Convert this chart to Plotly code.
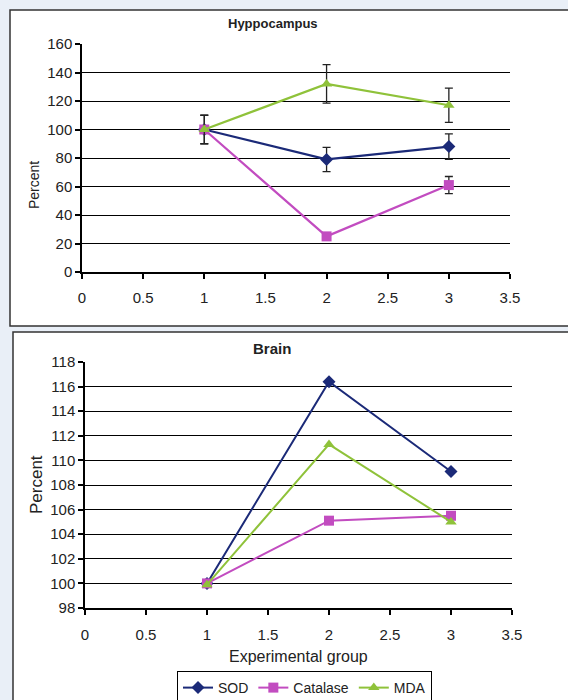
import plotly.graph_objects as go

W, H = 568, 700

# Experimental groups on the x axis
groups = [1, 2, 3]

# Hippocampus (% of control) with error bars
hip_sod = [100, 79, 88]
hip_sod_err = [10, 8.5, 9]
hip_cat = [100, 25, 61]
hip_cat_err = [2, 2, 6]
hip_mda = [100, 132, 117]
hip_mda_err = [10, 13.5, 12]

# Brain (% of control)
brain_sod = [100, 116.4, 109.1]
brain_cat = [100, 105.1, 105.5]
brain_mda = [99.9, 111.3, 105.0]

x_ticks = [0, 0.5, 1, 1.5, 2, 2.5, 3, 3.5]
x_tick_text = ["0", "0.5", "1", "1.5", "2", "2.5", "3", "3.5"]

C_SOD = "#1b2a78"
C_CAT = "#c24cc0"
C_MDA = "#8fc23a"
FONT = "Liberation Sans, Arial, sans-serif"


def px_x(p):
    return p / W


def px_y(p):
    return 1 - p / H


fig = go.Figure()

series_hip = [
    ("SOD", hip_sod, hip_sod_err, C_SOD, "diamond"),
    ("Catalase", hip_cat, hip_cat_err, C_CAT, "square"),
    ("MDA", hip_mda, hip_mda_err, C_MDA, "triangle-up"),
]
for name, vals, errs, col, sym in series_hip:
    fig.add_trace(go.Scatter(
        x=groups, y=vals, name=name, mode="lines+markers",
        line=dict(color=col, width=2.2),
        marker=dict(symbol=sym, size=10, color=col),
        error_y=dict(type="data", array=errs, visible=True,
                     color="#222222", thickness=1.3, width=4),
        xaxis="x", yaxis="y", showlegend=False,
    ))

series_brain = [
    ("SOD", brain_sod, C_SOD, "diamond"),
    ("Catalase", brain_cat, C_CAT, "square"),
    ("MDA", brain_mda, C_MDA, "triangle-up"),
]
for name, vals, col, sym in series_brain:
    fig.add_trace(go.Scatter(
        x=groups, y=vals, name=name, mode="lines+markers",
        line=dict(color=col, width=2),
        marker=dict(symbol=sym, size=10, color=col),
        xaxis="x2", yaxis="y2", showlegend=True,
    ))

axis_common = dict(
    showline=True, linecolor="black", linewidth=1.5,
    ticks="outside", ticklen=5, tickcolor="black", tickwidth=1.5,
    tickfont=dict(family=FONT, size=15, color="#222222"),
    zeroline=False, fixedrange=True, automargin=False,
)

fig.update_layout(
    width=W, height=H,
    margin=dict(l=0, r=0, t=0, b=0, autoexpand=False),
    paper_bgcolor="#e9eff7",
    plot_bgcolor="white",
    xaxis=dict(domain=[px_x(82), px_x(510)], anchor="y", range=[0, 3.5],
               tickvals=x_ticks, ticktext=x_tick_text, showgrid=False,
               ticklabelstandoff=6, **axis_common),
    yaxis=dict(domain=[px_y(272), px_y(44)], anchor="x", range=[0, 160],
               dtick=20, showgrid=True, gridcolor="black", gridwidth=1,
               **axis_common),
    xaxis2=dict(domain=[px_x(85), px_x(512)], anchor="y2", range=[0, 3.5],
                tickvals=x_ticks, ticktext=x_tick_text, showgrid=False,
                ticklabelstandoff=7, **axis_common),
    yaxis2=dict(domain=[px_y(608), px_y(362)], anchor="x2", range=[98, 118],
                dtick=2, showgrid=True, gridcolor="black", gridwidth=1,
                **axis_common),
    legend=dict(
        orientation="h", x=px_x(177), y=px_y(671), xanchor="left", yanchor="top",
        bgcolor="white", bordercolor="black", borderwidth=1,
        font=dict(family=FONT, size=14, color="#222222"),
        itemwidth=30, tracegroupgap=0,
    ),
)

# White chart panels with dark borders
fig.add_shape(type="rect", xref="paper", yref="paper",
              x0=px_x(10), x1=px_x(570), y0=px_y(326), y1=px_y(10),
              fillcolor="white", line=dict(color="#333333", width=1.5),
              layer="below")
fig.add_shape(type="rect", xref="paper", yref="paper",
              x0=px_x(13), x1=px_x(570), y0=px_y(702), y1=px_y(332),
              fillcolor="white", line=dict(color="#333333", width=1.5),
              layer="below")

annots = [
    dict(text="<b>Hyppocampus</b>", x=px_x(273), y=px_y(24), size=13, angle=0),
    dict(text="<b>Brain</b>", x=px_x(272), y=px_y(348), size=15, angle=0),
    dict(text="Percent", x=px_x(34), y=px_y(185), size=14, angle=-90),
    dict(text="Percent", x=px_x(36), y=px_y(485), size=17, angle=-90),
    dict(text="Experimental group", x=px_x(298), y=px_y(656), size=16, angle=0),
]
for a in annots:
    fig.add_annotation(
        text=a["text"], x=a["x"], y=a["y"], xref="paper", yref="paper",
        xanchor="center", yanchor="middle", showarrow=False,
        textangle=a["angle"],
        font=dict(family=FONT, size=a["size"], color="#222222"),
    )

fig.write_html("out.html")
